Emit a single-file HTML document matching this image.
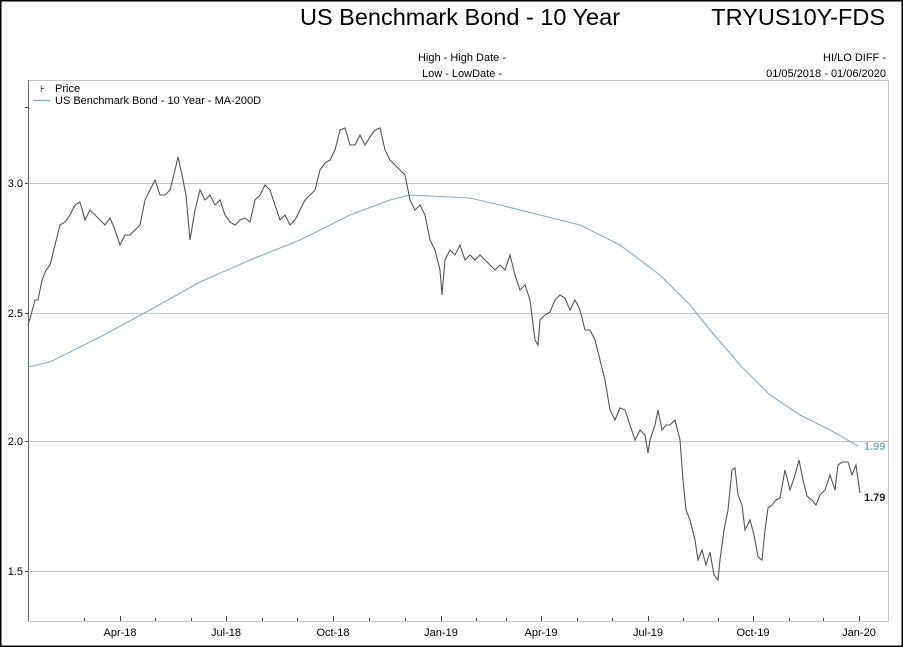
<!DOCTYPE html>
<html><head><style>
body{margin:0;background:#fff;}
svg{display:block;font-family:"Liberation Sans",Arial,sans-serif;}
</style></head><body>
<svg width="903" height="647" viewBox="0 0 903 647" xmlns="http://www.w3.org/2000/svg">
<rect x="0.5" y="0.5" width="902" height="646" fill="#fff" stroke="#000" stroke-width="2"/>
<text x="460" y="25" font-size="23.5" text-anchor="middle" fill="#000">US Benchmark Bond - 10 Year</text>
<text x="885" y="25" font-size="23.5" text-anchor="end" fill="#000">TRYUS10Y-FDS</text>
<text x="462" y="61" font-size="11" text-anchor="middle">High - High Date -</text>
<text x="462" y="77" font-size="11" text-anchor="middle">Low - LowDate -</text>
<text x="886" y="61" font-size="11" text-anchor="end">HI/LO DIFF -</text>
<text x="886" y="77" font-size="11" text-anchor="end">01/05/2018 - 01/06/2020</text>
<g stroke="#c8c8c8" stroke-width="1">
<line x1="28" y1="80.5" x2="889" y2="80.5"/>
<line x1="28" y1="183.5" x2="889" y2="183.5"/>
<line x1="28" y1="313.5" x2="889" y2="313.5"/>
<line x1="28" y1="441.5" x2="889" y2="441.5"/>
<line x1="28" y1="571.5" x2="889" y2="571.5"/>
<line x1="888.5" y1="80" x2="888.5" y2="621"/>
<line x1="28" y1="621.5" x2="889" y2="621.5"/>
</g>
<line x1="28.5" y1="80" x2="28.5" y2="621" stroke="#666"/>
<g stroke="#444">
<line x1="25" y1="183.5" x2="28" y2="183.5"/><line x1="25" y1="313.5" x2="28" y2="313.5"/>
<line x1="25" y1="441.5" x2="28" y2="441.5"/><line x1="25" y1="571.5" x2="28" y2="571.5"/>
<line x1="25" y1="107.5" x2="28" y2="107.5"/>
</g>
<g font-size="11" text-anchor="end" fill="#000">
<text x="23" y="187">3.0</text><text x="23" y="317">2.5</text><text x="23" y="445">2.0</text><text x="23" y="575">1.5</text>
</g>
<g stroke="#444">
<line x1="84.5" y1="621" x2="84.5" y2="618"/><line x1="120.5" y1="621" x2="120.5" y2="616"/>
<line x1="155.5" y1="621" x2="155.5" y2="618"/><line x1="191.5" y1="621" x2="191.5" y2="618"/>
<line x1="226.5" y1="621" x2="226.5" y2="616"/><line x1="262.5" y1="621" x2="262.5" y2="618"/>
<line x1="297.5" y1="621" x2="297.5" y2="618"/><line x1="333.5" y1="621" x2="333.5" y2="616"/>
<line x1="369.5" y1="621" x2="369.5" y2="618"/><line x1="405.5" y1="621" x2="405.5" y2="618"/>
<line x1="441.5" y1="621" x2="441.5" y2="616"/><line x1="476.5" y1="621" x2="476.5" y2="618"/>
<line x1="506.5" y1="621" x2="506.5" y2="618"/><line x1="541.5" y1="621" x2="541.5" y2="616"/>
<line x1="577.5" y1="621" x2="577.5" y2="618"/><line x1="612.5" y1="621" x2="612.5" y2="618"/>
<line x1="648.5" y1="621" x2="648.5" y2="616"/><line x1="683.5" y1="621" x2="683.5" y2="618"/>
<line x1="718.5" y1="621" x2="718.5" y2="618"/><line x1="753.5" y1="621" x2="753.5" y2="616"/>
<line x1="789.5" y1="621" x2="789.5" y2="618"/><line x1="823.5" y1="621" x2="823.5" y2="618"/>
<line x1="859.5" y1="621" x2="859.5" y2="616"/>
</g>
<g font-size="11" text-anchor="middle" fill="#000">
<text x="120" y="636">Apr-18</text><text x="226" y="636">Jul-18</text><text x="333" y="636">Oct-18</text>
<text x="441" y="636">Jan-19</text><text x="541" y="636">Apr-19</text><text x="648" y="636">Jul-19</text>
<text x="753" y="636">Oct-19</text><text x="859" y="636">Jan-20</text>
</g>
<text x="40" y="92" font-size="10">⊦</text>
<text x="55" y="92" font-size="11">Price</text>
<line x1="33" y1="100.5" x2="50" y2="100.5" stroke="#7fa8bf" stroke-width="1.2"/>
<text x="55" y="104" font-size="11">US Benchmark Bond - 10 Year - MA-200D</text>
<polyline fill="none" stroke="#88aec2" stroke-width="1.1" points="28,367 50,362 100,337 150,310 200,282 250,260 300,240 350,215 390,200 410,195 430,196 470,198 500,205 540,215 580,225 620,245 660,275 690,305 710,330 740,365 770,395 800,415 830,430 858,446"/>
<polyline fill="none" stroke="#555" stroke-width="1.1" points="28,325 31,315 35,300 38,300 42,280 46,270 50,265 55,245 60,225 65,222 70,215 75,205 80,202 85,220 90,210 95,215 100,220 105,225 110,218 115,230 120,245 125,235 130,235 135,230 140,225 145,200 150,190 155,180 160,195 165,195 170,190 175,170 178,157 182,175 186,195 190,240 195,210 200,190 205,200 210,195 215,205 220,200 225,215 230,222 235,225 240,220 245,218 250,222 255,200 260,195 265,185 270,190 275,205 280,220 285,215 290,225 295,220 300,210 305,200 310,195 315,190 320,170 325,163 330,160 335,150 340,130 345,128 350,145 355,145 360,135 365,145 370,137 375,130 380,128 385,150 390,160 395,165 400,170 405,175 410,200 415,210 420,205 425,215 430,240 435,250 440,270 442,295 445,260 450,250 455,255 460,245 465,260 470,255 475,260 480,255 485,260 490,265 495,270 500,265 505,270 510,255 515,275 520,290 525,285 530,300 535,340 538,345 540,320 545,315 550,312 555,300 560,295 565,298 570,310 575,300 580,310 585,330 590,330 595,340 600,360 605,380 610,410 615,420 620,408 625,410 630,425 635,440 640,430 645,435 648,453 650,440 655,425 658,410 662,430 666,425 670,425 675,420 680,440 683,480 686,510 690,520 695,540 698,560 702,550 706,565 710,552 714,575 718,580 720,560 724,530 728,510 732,470 735,468 738,495 742,505 745,530 750,520 754,535 758,557 762,560 765,530 768,508 772,505 776,500 780,498 785,470 790,490 795,475 799,460 803,480 807,496 812,500 816,505 820,495 825,490 830,475 835,490 838,465 842,462 848,462 852,475 856,465 860,493"/>
<text x="864" y="450" font-size="11" font-weight="bold" fill="#88aec2">1.99</text>
<text x="864" y="501" font-size="11" font-weight="bold" fill="#222">1.79</text>
</svg>
</body></html>
